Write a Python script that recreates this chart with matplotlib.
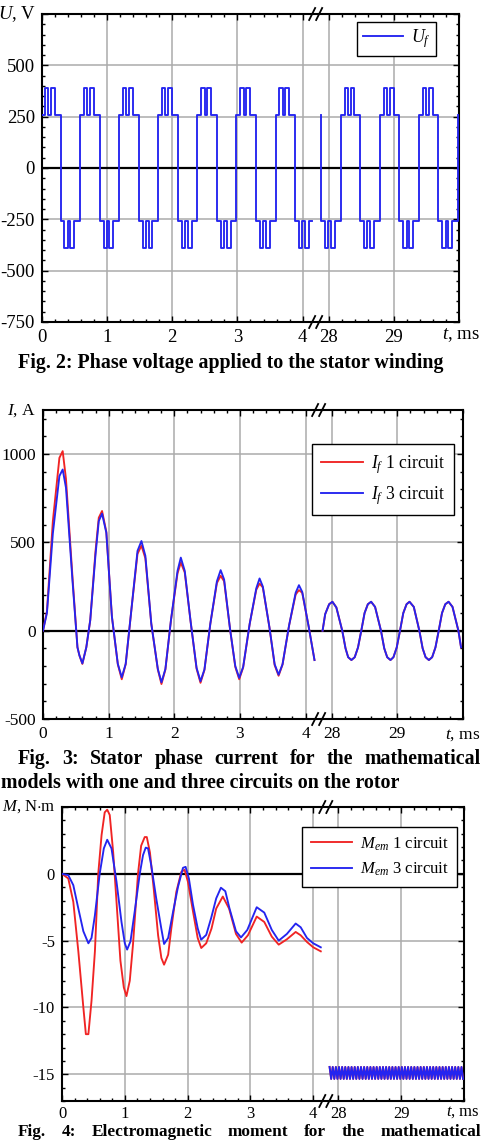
import numpy as np
import matplotlib
matplotlib.use('Agg')
import matplotlib.pyplot as plt
from matplotlib.ticker import FixedLocator, FixedFormatter, MultipleLocator
from matplotlib.lines import Line2D
import matplotlib.transforms as mtransforms

W, H = 483, 1140
plt.rcParams.update({
    'font.family': ['Liberation Serif', 'DejaVu Serif'],
    'mathtext.fontset': 'custom',
    'mathtext.rm': 'Liberation Serif',
    'mathtext.it': 'Liberation Serif:italic',
    'mathtext.bf': 'Liberation Serif:bold',
    'axes.unicode_minus': False,
    'font.size': 12,
})

# ---------------- data ----------------
x_major_t = [0, 1, 2, 3, 4, 28, 29]
x_major_labels = ['0', '1', '2', '3', '4', '28', '29']
t_shift = 23.6      # 28 ms drawn at 4.4 (axis break)
t_break = 4.2

# Fig. 2 : phase voltage (one switching period, repeated in the picture)
u_period = 0.6
u_phase = -0.015
u_switch_offsets = [0.0, 0.06, 0.11, 0.15, 0.21, 0.30, 0.36, 0.41, 0.45, 0.51]
u_switch_levels = [260, 390, 260, 390, 260, -260, -390, -260, -390, -260]
u_segments = [(0.0, 4.15), (27.88, 29.99)]
u_yticks = [-750, -500, -250, 0, 250, 500, 750]
u_yticklabels = ['-750', '-500', '-250', '0', '250', '500', '']

# Fig. 3 : stator phase current
i_left_t = [0.00, 0.06, 0.15, 0.25, 0.30, 0.35, 0.45, 0.525, 0.555, 0.60, 0.66, 0.72, 0.80, 0.85,
            0.90, 0.965, 1.05, 1.14, 1.20, 1.26, 1.35, 1.44, 1.50, 1.56, 1.65, 1.75, 1.805, 1.865,
            1.95, 2.05, 2.10, 2.16, 2.25, 2.34, 2.40, 2.46, 2.55, 2.65, 2.707, 2.76, 2.85, 2.93,
            2.99, 3.05, 3.15, 3.25, 3.30, 3.35, 3.45, 3.53, 3.59, 3.65, 3.75, 3.85, 3.90, 3.95,
            4.05, 4.137]
i3_left = [0, 100, 550, 876, 913, 810, 280, -94, -140, -185, -94, 60, 430, 621,
           663, 555, 80, -188, -264, -188, 130, 452, 508, 424, 40, -217, -292, -217,
           60, 339, 414, 339, 50, -210, -286, -220, 40, 280, 343, 290, 10, -200,
           -267, -205, 40, 240, 296, 250, 20, -190, -249, -190, 30, 215, 258, 220,
           20, -166]
i1_left = [0, 110, 620, 979, 1017, 860, 300, -94, -140, -188, -94, 60, 450, 640,
           678, 560, 80, -190, -275, -190, 130, 435, 482, 410, 40, -220, -302, -220,
           60, 325, 386, 330, 50, -215, -295, -222, 40, 270, 311, 280, 10, -205,
           -275, -208, 40, 232, 267, 245, 20, -195, -255, -192, 30, 205, 230, 215,
           20, -166]
i_right_t = [27.86, 27.90, 27.96, 28.01, 28.07, 28.16, 28.21, 28.25, 28.30, 28.35, 28.40, 28.45,
             28.50, 28.55, 28.60, 28.66, 28.75, 28.80, 28.845, 28.895, 28.94, 28.99, 29.04,
             29.09, 29.14, 29.185, 29.25, 29.335, 29.385, 29.43, 29.48, 29.53, 29.58, 29.63,
             29.68, 29.73, 29.78, 29.84, 29.93, 29.97]
i_right = [0, 94, 150, 164, 132, 0, -100, -150, -166, -150, -95, 0,
           100, 150, 164, 135, 0, -100, -150, -166, -150, -95, 0,
           100, 150, 164, 135, 0, -100, -150, -166, -150, -95, 0,
           100, 150, 164, 135, 0, -94]
i_yticks = [-500, 0, 500, 1000]
i_yticklabels = ['-500', '0', '500', '1000']

# Fig. 4 : electromagnetic moment
m1_left_t = [0, 0.10, 0.18, 0.26, 0.34, 0.38, 0.42, 0.47, 0.524, 0.577, 0.63, 0.68, 0.72, 0.76,
             0.815, 0.868, 0.93, 0.984, 1.026, 1.079, 1.13, 1.21, 1.26, 1.317, 1.35, 1.40, 1.46,
             1.53, 1.582, 1.625, 1.69, 1.74, 1.82, 1.90, 1.952, 2.005, 2.085, 2.16, 2.217, 2.296,
             2.38, 2.455, 2.56, 2.66, 2.77, 2.86, 2.96, 3.10, 3.22, 3.34, 3.45, 3.58, 3.72, 3.80,
             3.90, 4.0, 4.12]
m1_left = [0, -0.35, -2.1, -5.8, -10.0, -12.0, -12.0, -9.5, -5.8, 0, 2.9, 4.6, 4.8, 4.4,
           1.6, -2.1, -6.5, -8.5, -9.15, -8.0, -5.3, 0, 2.1, 2.75, 2.75, 1.6, -1.1,
           -4.6, -6.3, -6.8, -6.05, -4.1, -1.35, 0.15, 0.3, -0.6, -2.8, -4.8, -5.55, -5.2,
           -4.1, -2.6, -1.7, -2.6, -4.5, -5.15, -4.6, -3.2, -3.6, -4.7, -5.3, -4.9, -4.35, -4.6,
           -5.1, -5.5, -5.8]
m3_left_t = [0, 0.10, 0.18, 0.26, 0.34, 0.42, 0.47, 0.524, 0.60, 0.666, 0.72, 0.788, 0.868, 0.947,
             1.0, 1.037, 1.09, 1.158, 1.238, 1.29, 1.333, 1.37, 1.42, 1.50, 1.58, 1.625, 1.69,
             1.77, 1.847, 1.926, 1.968, 2.02, 2.085, 2.16, 2.215, 2.296, 2.375, 2.455, 2.53, 2.60,
             2.667, 2.77, 2.85, 2.95, 3.10, 3.22, 3.34, 3.45, 3.58, 3.72, 3.80, 3.90, 4.0, 4.12]
m3_left = [0, -0.1, -0.85, -2.6, -4.3, -5.2, -4.8, -3.1, 0, 1.9, 2.55, 1.9, -0.6, -3.6,
           -5.2, -5.67, -5.06, -2.8, 0, 1.4, 1.96, 1.9, 0.65, -1.84, -4.07, -5.25, -4.8,
           -2.8, -0.97, 0.45, 0.52, -0.35, -2.3, -4.07, -4.93, -4.57, -3.3, -1.84, -1.04, -1.3,
           -2.6, -4.3, -4.76, -4.2, -2.5, -2.9, -4.2, -5.0, -4.5, -3.72, -4.0, -4.8, -5.2, -5.5]
m_right_t0, m_right_t1 = 27.86, 29.985
m_right = [-14.45, -15.35, -14.45, -15.35, -14.45, -15.35, -14.45, -15.35, -14.45, -15.35,
           -14.45, -15.35, -14.45, -15.35, -14.45, -15.35, -14.45, -15.35, -14.45, -15.35,
           -14.45, -15.35, -14.45, -15.35, -14.45, -15.35, -14.45, -15.35, -14.45, -15.35,
           -14.45, -15.35, -14.45, -15.35, -14.45, -15.35, -14.45, -15.35, -14.45, -15.35,
           -14.45, -15.35, -14.45, -15.35, -14.45, -15.35, -14.45, -15.35, -14.45, -15.35,
           -14.45, -15.35, -14.45, -15.35, -14.45, -15.35, -14.45, -15.35, -14.45, -15.35,
           -14.45, -15.35, -14.45, -15.35, -14.45, -15.35, -14.45, -15.35, -14.45, -15.35,
           -14.45, -15.35, -14.45, -15.35, -14.45, -15.35, -14.45, -15.35, -14.45, -15.35,
           -14.45, -15.35, -14.45, -15.35, -14.45, -15.35]
m_yticks = [-15, -10, -5, 0, 5]
m_yticklabels = ['-15', '-10', '-5', '0', '']

BLUE = '#2424f0'
RED = '#f02424'
GRID = '#ababab'
LW = 1.35


def xmap(t):
    t = np.asarray(t, dtype=float)
    return np.where(t > 10, t - t_shift, t)


fig = plt.figure(figsize=(W / 100, H / 100), dpi=100)


def fy(py):
    return 1 - py / H


def make_axes(left, right, top, bottom):
    return fig.add_axes([left / W, 1 - bottom / H, (right - left) / W, (bottom - top) / H])


def style(ax, ylim, yticks, ylabels, yminor, fs, xpad=5):
    ax.set_xlim(0, 6.4)
    ax.set_ylim(*ylim)
    ax.xaxis.set_major_locator(FixedLocator(xmap(x_major_t)))
    ax.xaxis.set_major_formatter(FixedFormatter(x_major_labels))
    minor = [0.2 * i for i in range(21)] + [28 + 0.2 * i for i in range(11)]
    ax.xaxis.set_minor_locator(FixedLocator(xmap(minor)))
    ax.yaxis.set_major_locator(FixedLocator(yticks))
    ax.yaxis.set_major_formatter(FixedFormatter(ylabels))
    ax.yaxis.set_minor_locator(MultipleLocator(yminor))
    ax.tick_params(which='both', direction='in', top=True, right=True, width=1.0,
                   labelsize=fs, pad=5, colors='k')
    ax.tick_params(axis='x', which='both', pad=xpad)
    ax.tick_params(which='major', length=4.5)
    ax.tick_params(which='minor', length=2.5)
    for s in ax.spines.values():
        s.set_linewidth(1.5)
    ax.grid(True, which='major', color=GRID, lw=1.1)
    ax.set_axisbelow(True)
    ax.axhline(0, color='k', lw=1.6, zorder=1.5)


def break_marks(ax):
    trans = mtransforms.blended_transform_factory(ax.transData, ax.transAxes)
    for yy in (0, 1):
        px, py = trans.transform((t_break, yy))
        for dx in (-3.5, 3.5):
            x0, x1 = px + dx - 3.0, px + dx + 3.0
            y0, y1 = py - 6.0, py + 6.0
            fig.add_artist(Line2D([x0 / W, x1 / W], [y0 / H, y1 / H], color='k', lw=1.3,
                                  transform=fig.transFigure))


def u_steps(a, b):
    times, levels = [], []
    for k in range(-1, 52):
        for off, lv in zip(u_switch_offsets, u_switch_levels):
            times.append(u_phase + k * u_period + off)
            levels.append(lv)
    times = np.array(times)
    levels = np.array(levels)
    i0 = np.searchsorted(times, a, side='right') - 1
    inside = (times > a) & (times < b)
    tt = np.concatenate([[a], times[inside], [b]])
    vin = levels[inside]
    vv = np.concatenate([[levels[i0]], vin, [vin[-1]]])
    return tt, vv


def legend(ax, handles, labels, anchor, fs, bpad, lspace, hlen):
    lg = ax.legend(handles, labels, loc='upper right', bbox_to_anchor=anchor, borderaxespad=0,
                   frameon=True, fancybox=False, edgecolor='k', framealpha=1, fontsize=fs,
                   handlelength=hlen, handletextpad=0.45, borderpad=bpad, labelspacing=lspace)
    lg.get_frame().set_linewidth(1.0)
    return lg


# ---------------- Fig. 2 ----------------
ax1 = make_axes(42, 459, 14, 322)
style(ax1, (-750, 750), u_yticks, u_yticklabels, 50, 13.5)
for a, b in u_segments:
    tt, vv = u_steps(a, b)
    ax1.step(xmap(tt), vv, where='post', color=BLUE, lw=LW, zorder=3)
legend(ax1, [Line2D([], [], color=BLUE, lw=LW)], [r'$U_f$'], (0.945, 0.974), 13, 0.3, 0.3, 2.2)
break_marks(ax1)

# ---------------- Fig. 3 ----------------
ax2 = make_axes(43, 463, 410, 719)
style(ax2, (-500, 1250), i_yticks, i_yticklabels, 100, 12.5)
ax2.plot(xmap(i_left_t), i1_left, color=RED, lw=LW, zorder=3)
ax2.plot(xmap(i_left_t), i3_left, color=BLUE, lw=LW, zorder=4)
ax2.plot(xmap(i_right_t), i_right, color=RED, lw=LW, zorder=3)
ax2.plot(xmap(i_right_t), i_right, color=BLUE, lw=LW, zorder=4)
legend(ax2, [Line2D([], [], color=RED, lw=LW), Line2D([], [], color=BLUE, lw=LW)],
       [r'$I_f$ 1 circuit', r'$I_f$ 3 circuit'], (0.979, 0.89), 12.7, 0.5, 0.45, 2.4)
break_marks(ax2)

# ---------------- Fig. 4 ----------------
ax3 = make_axes(62, 464, 807, 1101)
style(ax3, (-17, 5), m_yticks, m_yticklabels, 1, 12, xpad=3.5)
m_right_t = np.linspace(m_right_t0, m_right_t1, len(m_right))
ax3.plot(xmap(m1_left_t), m1_left, color=RED, lw=LW, zorder=3)
ax3.plot(xmap(m3_left_t), m3_left, color=BLUE, lw=LW, zorder=4)
ax3.plot(xmap(m_right_t), m_right, color=RED, lw=LW, zorder=3)
ax3.plot(xmap(m_right_t), m_right, color=BLUE, lw=LW, zorder=4)
legend(ax3, [Line2D([], [], color=RED, lw=LW), Line2D([], [], color=BLUE, lw=LW)],
       [r'$M_{em}$ 1 circuit', r'$M_{em}$ 3 circuit'], (0.983, 0.932), 12, 0.5, 0.5, 2.5)
break_marks(ax3)

# ---------------- axis titles ----------------
fig.text(36 / W, fy(14), r'$U$, V', ha='right', va='center', fontsize=13.5)
fig.text(36 / W, fy(411), r'$I$, A', ha='right', va='center', fontsize=12.5)
fig.text(56 / W, fy(807), r'$M$, N$\cdot$m', ha='right', va='center', fontsize=12)
for yb, fs in ((335, 13.5), (735, 12.5), (1112, 12)):
    fig.text(480 / W, fy(yb), r'$t$, ms', ha='right', va='center', fontsize=fs)

# ---------------- captions ----------------
renderer = fig.canvas.get_renderer()
probe = fig.text(0, 0, 'Fig. 2: Phase voltage applied to the stator winding',
                 fontsize=12, fontweight='bold')
wprobe = probe.get_window_extent(renderer).width
cap_fs = 12 * 424 / wprobe
probe.remove()

fig.text(18 / W, fy(363), 'Fig. 2: Phase voltage applied to the stator winding',
         fontsize=cap_fs, fontweight='bold', ha='left', va='center')


def justify(text, x0, x1, py, fs, va='center'):
    words = text.split()
    objs = [fig.text(0, fy(py), w, fontsize=fs, fontweight='bold', ha='left', va=va)
            for w in words]
    widths = [o.get_window_extent(renderer).width for o in objs]
    gap = ((x1 - x0) - sum(widths)) / (len(words) - 1)
    x = x0
    for o, w in zip(objs, widths):
        o.set_x(x / W)
        x += w + gap


justify('Fig. 3: Stator phase current for the mathematical', 18, 481, 759, cap_fs)
fig.text(1 / W, fy(783), 'models with one and three circuits on the rotor',
         fontsize=cap_fs, fontweight='bold', ha='left', va='center')
justify('Fig. 4: Electromagnetic moment for the mathematical', 18, 481, 1139.5,
        cap_fs * 0.86, va='bottom')

fig.savefig('out.png', dpi=100)
